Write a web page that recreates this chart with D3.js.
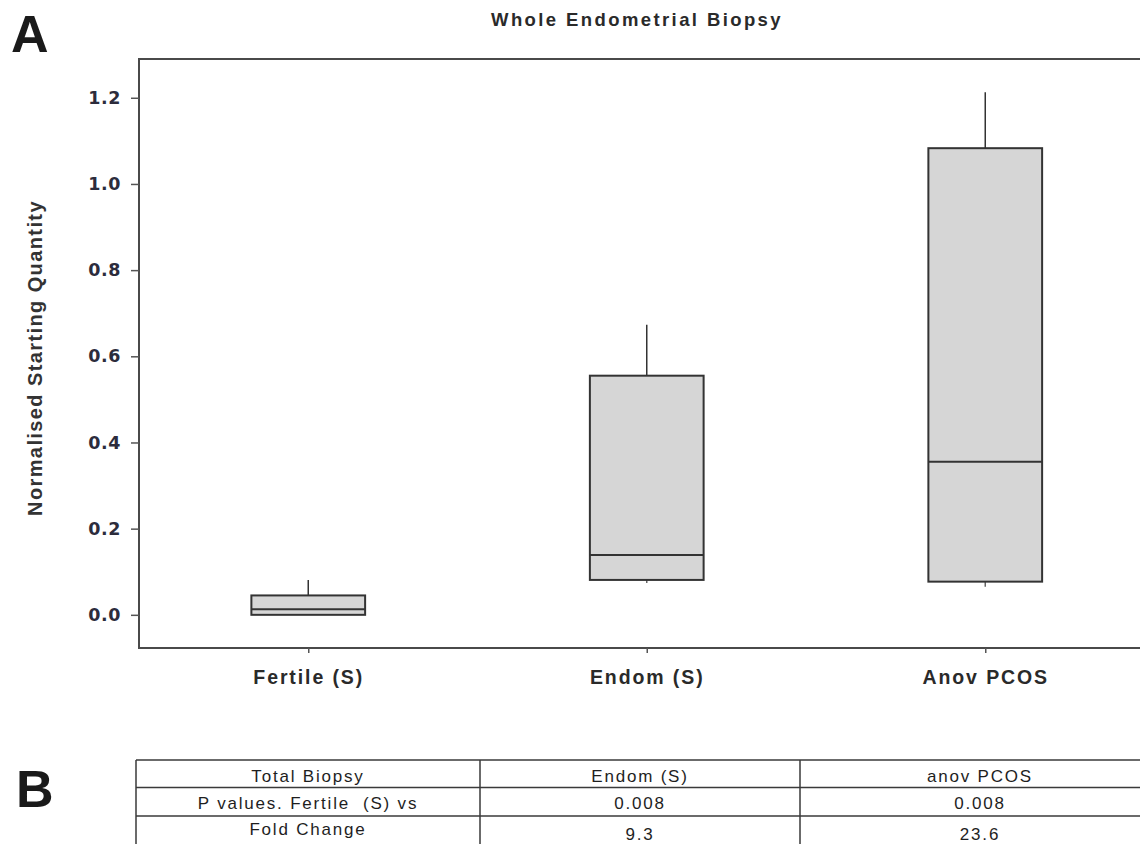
<!DOCTYPE html>
<html>
<head>
<meta charset="utf-8">
<script src="https://cdn.jsdelivr.net/npm/d3@7"></script>
<style>
  body { margin: 0; background: #fff; }
  svg { display: block; font-family: "Liberation Sans", Arial, sans-serif; }
</style>
</head>
<body>
<svg width="1140" height="844"></svg>
<script>
// box plot values
var categories = ["Fertile (S)", "Endom (S)", "Anov PCOS"];
var whiskerLow = [0.0, 0.074, 0.065];
var q1 = [0.0, 0.081, 0.077];
var median = [0.013, 0.139, 0.355];
var q3 = [0.045, 0.555, 1.083];
var whiskerHigh = [0.081, 0.673, 1.213];
var yTicks = [0, 0.2, 0.4, 0.6, 0.8, 1.0, 1.2];

// table B
var headerRow = ["Total Biopsy", "Endom (S)", "anov PCOS"];
var pRow = ["P values. Fertile  (S) vs", "0.008", "0.008"];
var foldRow = ["Fold Change", "9.3", "23.6"];

var svg = d3.select("svg");

var plotLeft = 139, plotTop = 59, plotBottom = 648;

var x = d3.scalePoint()
  .domain(categories)
  .range([plotLeft, plotLeft + 3 * 338.5])
  .padding(0.5);

var y = d3.scaleLinear()
  .domain([-0.077, 1.29])
  .range([plotBottom, plotTop]);

var boxW = x.step() * 0.336;

// panel letters + title
svg.append("text")
  .attr("x", 11).attr("y", 52)
  .attr("font-size", 52).attr("font-weight", "bold")
  .attr("fill", "#1a1a1a")
  .text("A");

svg.append("text")
  .attr("x", 16).attr("y", 807)
  .attr("font-size", 52).attr("font-weight", "bold")
  .attr("fill", "#1a1a1a")
  .text("B");

svg.append("text")
  .attr("x", 637).attr("y", 26)
  .attr("text-anchor", "middle")
  .attr("font-size", 18.5).attr("font-weight", "bold")
  .attr("letter-spacing", 2.4)
  .attr("fill", "#2a2a2a")
  .text("Whole Endometrial Biopsy");

// frame
svg.append("path")
  .attr("d", "M" + (plotLeft + 1100) + "," + plotTop + "H" + plotLeft + "V" + plotBottom + "H" + (plotLeft + 1100))
  .attr("fill", "none")
  .attr("stroke", "#4a4a4a")
  .attr("stroke-width", 2);

// y axis
var gy = svg.append("g")
  .attr("transform", "translate(" + plotLeft + ",0)")
  .call(d3.axisLeft(y)
    .tickValues(yTicks)
    .tickSize(8)
    .tickPadding(10)
    .tickFormat(d3.format(".1f")));
gy.select(".domain").remove();
gy.selectAll(".tick line").attr("stroke", "#555").attr("stroke-width", 1.5);
gy.selectAll(".tick text")
  .attr("font-family", "'DejaVu Sans', Verdana, sans-serif")
  .attr("font-size", 17.5).attr("font-weight", "bold")
  .attr("letter-spacing", 0.6)
  .attr("fill", "#2c2c3c");

// x axis
var gx = svg.append("g")
  .attr("transform", "translate(0," + plotBottom + ")")
  .call(d3.axisBottom(x).tickSize(5).tickPadding(17));
gx.select(".domain").remove();
gx.selectAll(".tick line").attr("stroke", "#555").attr("stroke-width", 1.5);
gx.selectAll(".tick text")
  .attr("font-family", "'Liberation Sans', Arial, sans-serif")
  .attr("font-size", 19.5).attr("font-weight", "bold")
  .attr("letter-spacing", 1.9)
  .attr("fill", "#2a2a2a");

// y label
svg.append("text")
  .attr("transform", "translate(42,358) rotate(-90)")
  .attr("text-anchor", "middle")
  .attr("font-size", 20).attr("font-weight", "bold")
  .attr("letter-spacing", 1.4)
  .attr("fill", "#333")
  .text("Normalised Starting Quantity");

// boxes
var boxes = svg.append("g")
  .selectAll("g")
  .data(d3.range(categories.length))
  .enter().append("g");

boxes.append("line")
  .attr("x1", function(i) { return x(categories[i]); })
  .attr("x2", function(i) { return x(categories[i]); })
  .attr("y1", function(i) { return y(q3[i]); })
  .attr("y2", function(i) { return y(whiskerHigh[i]); })
  .attr("stroke", "#333").attr("stroke-width", 1.5);

boxes.append("line")
  .attr("x1", function(i) { return x(categories[i]); })
  .attr("x2", function(i) { return x(categories[i]); })
  .attr("y1", function(i) { return y(q1[i]); })
  .attr("y2", function(i) { return y(whiskerLow[i]); })
  .attr("stroke", "#666").attr("stroke-width", 1.5);

boxes.append("rect")
  .attr("x", function(i) { return x(categories[i]) - boxW / 2; })
  .attr("width", boxW)
  .attr("y", function(i) { return y(q3[i]); })
  .attr("height", function(i) { return y(q1[i]) - y(q3[i]); })
  .attr("fill", "#d6d6d6")
  .attr("stroke", "#333").attr("stroke-width", 2);

boxes.append("line")
  .attr("x1", function(i) { return x(categories[i]) - boxW / 2; })
  .attr("x2", function(i) { return x(categories[i]) + boxW / 2; })
  .attr("y1", function(i) { return y(median[i]); })
  .attr("y2", function(i) { return y(median[i]); })
  .attr("stroke", "#333").attr("stroke-width", 2);

// table
var colEdges = [136, 480, 800, 1160];
var rowEdges = [760, 787.5, 816, 852];
var rows = [headerRow, pRow, foldRow];
var baselines = [[782, 782, 782], [809, 809, 809], [835, 840, 840]];

var tb = svg.append("g");
rowEdges.forEach(function(ry) {
  tb.append("line")
    .attr("x1", colEdges[0]).attr("x2", colEdges[3])
    .attr("y1", ry).attr("y2", ry)
    .attr("stroke", "#3a3a3a").attr("stroke-width", 1.5);
});
colEdges.forEach(function(cx) {
  tb.append("line")
    .attr("x1", cx).attr("x2", cx)
    .attr("y1", rowEdges[0]).attr("y2", rowEdges[3])
    .attr("stroke", "#3a3a3a").attr("stroke-width", 1.5);
});

rows.forEach(function(row, r) {
  tb.selectAll(null)
    .data(row)
    .enter().append("text")
    .attr("x", function(d, c) { return (colEdges[c] + colEdges[c + 1]) / 2; })
    .attr("y", function(d, c) { return baselines[r][c]; })
    .attr("text-anchor", "middle")
    .attr("font-size", 17).attr("letter-spacing", 1.8)
    .attr("fill", "#1e1e1e")
    .style("white-space", "pre")
    .text(function(d) { return d; });
});
</script>
</body>
</html>
